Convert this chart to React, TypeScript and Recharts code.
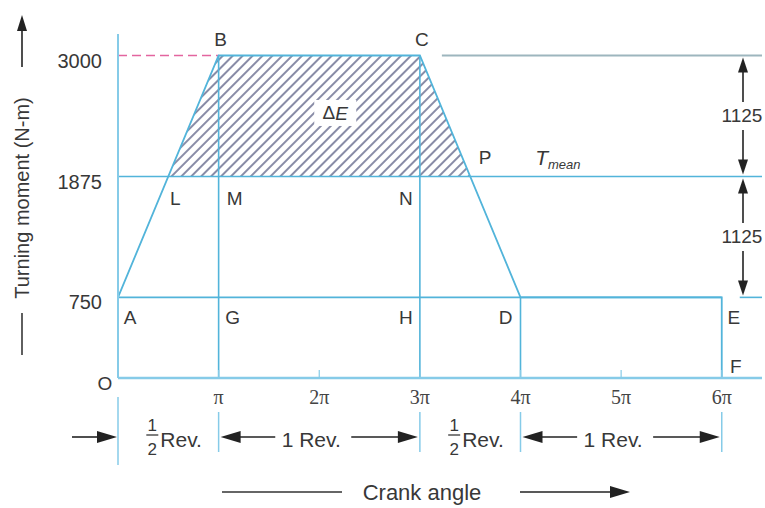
import React from 'react';
import {
  ComposedChart,
  Line,
  Area,
  XAxis,
  YAxis,
  ReferenceLine,
  ReferenceDot,
  ReferenceArea,
} from 'recharts';

// ---------------- data ----------------
// crank angle in multiples of π, turning moment in N-m
const crankAngle = [0, 1, 3, 4, 6, 6];
const turningMoment = [750, 3000, 3000, 750, 750, 0];
const excessAngle = [0.5, 1, 3, 3.5];
const excessMoment = [1875, 3000, 3000, 1875];
const meanMoment = 1875;
const maxMoment = 3000;
const minMoment = 750;
const xTickValues = [1, 2, 3, 4, 5, 6];
const xTickLabels = ['π', '2π', '3π', '4π', '5π', '6π'];
const yTickValues = [750, 1875, 3000];
const ordinateAngle = [1, 3, 4];
const ordinateTop = [3000, 3000, 750];
const pointNames = ['O', 'A', 'B', 'C', 'D', 'E', 'F', 'G', 'H', 'L', 'M', 'N', 'P'];
const pointAngle = [0, 0, 1, 3, 4, 6, 6, 1, 3, 0.5, 1, 3, 3.5];
const pointMoment = [0, 750, 3000, 3000, 750, 750, 0, 750, 750, 1875, 1875, 1875, 1875];
const revBoundaries = [0, 1, 3, 4, 6];
const revKinds = ['half', 'one', 'half', 'one'];

// ---------------- styles ----------------
const BLUE = '#52b4da';
const AXIS_BLUE = '#86cbe8';
const GREY_BLUE = '#9db6be';
const HATCH = '#62668a';
const PINK = '#e3659f';
const TEXT = '#383838';
const SANS = '"Liberation Sans", Arial, Helvetica, sans-serif';
const SERIF = '"Liberation Serif", "Times New Roman", serif';
const X_TICK_MARGIN = 10;

const labelOffsets: Record<string, [number, number]> = {
  O: [-13, 5],
  A: [12, 20],
  B: [2, -16],
  C: [2, -16],
  D: [-15, 20],
  E: [12, 20],
  F: [14, -12],
  G: [14, 20],
  H: [-14, 20],
  L: [7, 22],
  M: [16, 22],
  N: [-14, 22],
  P: [15, -19],
};

const curveData = crankAngle.map((x, i) => ({ x, m: turningMoment[i] }));
const excessData = excessAngle.map((x, i) => ({ x, m: excessMoment[i] }));

// ---------------- helpers ----------------
function Arrow({ x1, y1, x2, y2, head = 16, half = 5, color = '#222', sw = 1.6 }: any) {
  const dx = x2 - x1;
  const dy = y2 - y1;
  const len = Math.sqrt(dx * dx + dy * dy) || 1;
  const ux = dx / len;
  const uy = dy / len;
  const bx = x2 - ux * head;
  const by = y2 - uy * head;
  const px = -uy * half;
  const py = ux * half;
  return (
    <g>
      <line x1={x1} y1={y1} x2={bx + ux * 2} y2={by + uy * 2} stroke={color} strokeWidth={sw} />
      <polygon points={`${x2},${y2} ${bx + px},${by + py} ${bx - px},${by - py}`} fill={color} />
    </g>
  );
}

const XTick = (props: any) => {
  const { x, y, payload } = props;
  const idx = xTickValues.indexOf(payload.value);
  const axisY = y - X_TICK_MARGIN;
  return (
    <g>
      <line x1={x} x2={x} y1={axisY} y2={axisY - 8} stroke={AXIS_BLUE} strokeWidth={1.2} />
      <text x={x} y={axisY + 26} textAnchor="middle" fontFamily={SERIF} fontSize={20} fill="#444">
        {xTickLabels[idx]}
      </text>
    </g>
  );
};

const YTitle = (props: any) => {
  const vb = props.viewBox || { x: 58, y: 34 };
  const cx = vb.x - 36;
  const top = vb.y;
  return (
    <g>
      <Arrow x1={cx} y1={top + 33} x2={cx} y2={top - 19} head={16} half={5} />
      <text
        x={cx}
        y={top + 164}
        transform={`rotate(-90 ${cx} ${top + 164})`}
        textAnchor="middle"
        dominantBaseline="central"
        fontFamily={SANS}
        fontSize={20}
        fill={TEXT}
      >
        Turning moment (N-m)
      </text>
      <line x1={cx} x2={cx} y1={top + 279} y2={top + 321} stroke={TEXT} strokeWidth={1.6} />
    </g>
  );
};

const XTitle = (props: any) => {
  const vb = props.viewBox || { x: 118, y: 378, width: 644 };
  const c = vb.x + vb.width / 2;
  const yy = vb.y + 114;
  return (
    <g>
      <line x1={c - 218} x2={c - 98} y1={yy} y2={yy} stroke="#333" strokeWidth={1.6} />
      <text x={c - 18} y={yy} textAnchor="middle" dominantBaseline="central" fontFamily={SANS} fontSize={22} fill={TEXT}>
        Crank angle
      </text>
      <Arrow x1={c + 80} y1={yy} x2={c + 190} y2={yy} head={20} half={6} color="#222" />
    </g>
  );
};

const BoundaryTick = (props: any) => {
  const { x1, y1, y2 } = props;
  const bottom = Math.max(y1, y2);
  const isOrigin = props.origin;
  return (
    <line
      x1={x1}
      x2={x1}
      y1={bottom + (isOrigin ? 19 : 34)}
      y2={bottom + (isOrigin ? 87 : 74)}
      stroke={AXIS_BLUE}
      strokeWidth={1.5}
    />
  );
};

const RevSpan = (props: any) => {
  const { x, y, width, height, kind, first } = props;
  const yy = y + height + 61;
  const mid = x + width / 2;
  if (kind === 'half') {
    const left = mid + 14 - 36;
    return (
      <g fontFamily={SANS} fill={TEXT}>
        {first && <Arrow x1={x - 46} y1={yy - 2} x2={x - 1} y2={yy - 2} head={20} half={6} />}
        <text x={left + 6} y={yy - 14} textAnchor="middle" dominantBaseline="central" fontSize={17}>1</text>
        <line x1={left} x2={left + 12} y1={yy - 4} y2={yy - 4} stroke={TEXT} strokeWidth={1.3} />
        <text x={left + 6} y={yy + 10} textAnchor="middle" dominantBaseline="central" fontSize={17}>2</text>
        <text x={left + 14} y={yy} dominantBaseline="central" fontSize={21}>Rev.</text>
      </g>
    );
  }
  const tc = mid - 8;
  return (
    <g fontFamily={SANS} fill={TEXT}>
      <Arrow x1={tc - 36} y1={yy - 2} x2={x + 2} y2={yy - 2} head={20} half={6} />
      <text x={tc} y={yy} textAnchor="middle" dominantBaseline="central" fontSize={21}>1 Rev.</text>
      <Arrow x1={tc + 40} y1={yy - 2} x2={x + width - 2} y2={yy - 2} head={20} half={6} />
    </g>
  );
};

const Dimension = (props: any) => {
  const { x, y, width, height, value } = props;
  const cx = x + width - 19;
  const cy = y + height / 2;
  return (
    <g>
      <Arrow x1={cx} y1={cy - 14} x2={cx} y2={y + 2} head={15} half={5} />
      <Arrow x1={cx} y1={cy + 14} x2={cx} y2={y + height - 2} head={15} half={5} />
      <text x={cx - 1} y={cy} textAnchor="middle" dominantBaseline="central" fontFamily={SANS} fontSize={19} fill={TEXT}>
        {value}
      </text>
    </g>
  );
};

const ShiftedSegment = (props: any) => {
  const { x1, y1, x2, y2, shift, stroke, strokeWidth } = props;
  return <line x1={Math.min(x1, x2) + shift} x2={Math.max(x1, x2)} y1={y1} y2={y2} stroke={stroke} strokeWidth={strokeWidth} />;
};

const PointLabel = (props: any) => {
  const { cx, cy, name } = props;
  const [dx, dy] = labelOffsets[name] || [0, 0];
  return (
    <text x={cx + dx} y={cy + dy} textAnchor="middle" dominantBaseline="central" fontFamily={SANS} fontSize={19} fill={TEXT}>
      {name}
    </text>
  );
};

const DeltaE = (props: any) => {
  const { cx, cy } = props;
  const x = cx + 16;
  const y = cy - 3;
  return (
    <g>
      <rect x={x - 21} y={y - 13} width={42} height={26} fill="#fff" />
      <text x={x} y={y} textAnchor="middle" dominantBaseline="central" fontFamily={SANS} fontSize={19} fill={TEXT}>
        Δ<tspan fontStyle="italic">E</tspan>
      </text>
    </g>
  );
};

const TMean = (props: any) => {
  const { cx, cy } = props;
  const x = cx + 65;
  const y = cy - 19;
  return (
    <text x={x} y={y} dominantBaseline="central" fontFamily={SANS} fill={TEXT}>
      <tspan fontSize={21} fontStyle="italic">T</tspan>
      <tspan fontSize={13} fontStyle="italic" dy={7}>mean</tspan>
    </text>
  );
};

export default function App() {
  return (
    <div style={{ position: 'absolute', left: 0, top: 0, width: 765, height: 508, background: '#fff' }}>
      <ComposedChart width={765} height={508} margin={{ top: 34, right: 3, bottom: 100, left: 58 }}>
        <defs>
          <pattern id="hatch" patternUnits="userSpaceOnUse" width="7" height="7" patternTransform="rotate(45)">
            <rect width="7" height="7" fill="#fff" />
            <line x1="1" y1="0" x2="1" y2="7" stroke={HATCH} strokeWidth="1.5" />
          </pattern>
        </defs>
        <XAxis
          dataKey="x"
          type="number"
          domain={[0, 6.4]}
          ticks={xTickValues}
          interval={0}
          tickLine={false}
          tickSize={0}
          tickMargin={X_TICK_MARGIN}
          tick={<XTick />}
          axisLine={{ stroke: AXIS_BLUE, strokeWidth: 2.5 }}
          label={<XTitle />}
        />
        <YAxis
          type="number"
          domain={[0, 3200]}
          ticks={yTickValues}
          interval={0}
          width={60}
          tickLine={false}
          tickSize={0}
          tickMargin={16}
          tick={{ fill: TEXT, fontSize: 20, fontFamily: SANS, dy: 5 }}
          axisLine={{ stroke: AXIS_BLUE, strokeWidth: 2 }}
          label={<YTitle />}
        />

        <Area
          data={excessData}
          dataKey="m"
          type="linear"
          baseValue={meanMoment}
          fill="url(#hatch)"
          fillOpacity={1}
          stroke="none"
          isAnimationActive={false}
        />

        {/* mean torque line */}
        <ReferenceLine y={meanMoment} stroke={BLUE} strokeWidth={1.6} />
        {/* minimum torque line A-E */}
        <ReferenceLine segment={[{ x: 0, y: minMoment }, { x: 6, y: minMoment }]} stroke={BLUE} strokeWidth={1.6} />
        <ReferenceLine
          segment={[{ x: 6, y: minMoment }, { x: 6.4, y: minMoment }]}
          shape={(p: any) => <ShiftedSegment {...p} shift={18} stroke={BLUE} strokeWidth={1.6} />}
        />
        {/* maximum torque reference line */}
        <ReferenceLine
          segment={[{ x: 3, y: maxMoment }, { x: 6.4, y: maxMoment }]}
          shape={(p: any) => <ShiftedSegment {...p} shift={22} stroke={GREY_BLUE} strokeWidth={2} />}
        />
        <ReferenceLine
          segment={[{ x: 0, y: maxMoment }, { x: 1, y: maxMoment }]}
          stroke={PINK}
          strokeWidth={1.6}
          strokeDasharray="9 5"
        />
        {ordinateAngle.map((a, i) => (
          <ReferenceLine
            key={`ord-${i}`}
            segment={[{ x: a, y: 0 }, { x: a, y: ordinateTop[i] }]}
            stroke={BLUE}
            strokeWidth={1.6}
          />
        ))}

        <Line
          data={curveData}
          dataKey="m"
          type="linear"
          stroke={BLUE}
          strokeWidth={1.8}
          dot={false}
          isAnimationActive={false}
        />

        {/* boundary ticks below the axis */}
        {revBoundaries.map((b, i) => (
          <ReferenceLine
            key={`bt-${i}`}
            x={b}
            shape={(p: any) => <BoundaryTick {...p} origin={i === 0} />}
          />
        ))}
        {revKinds.map((k, i) => (
          <ReferenceArea
            key={`rev-${i}`}
            x1={revBoundaries[i]}
            x2={revBoundaries[i + 1]}
            shape={(p: any) => <RevSpan {...p} kind={k} first={i === 0} />}
          />
        ))}

        {/* dimension arrows on the right */}
        <ReferenceArea
          y1={meanMoment}
          y2={maxMoment}
          shape={(p: any) => <Dimension {...p} value={String(maxMoment - meanMoment)} />}
        />
        <ReferenceArea
          y1={minMoment}
          y2={meanMoment}
          shape={(p: any) => <Dimension {...p} value={String(meanMoment - minMoment)} />}
        />

        {pointNames.map((n, i) => (
          <ReferenceDot
            key={`pt-${n}`}
            x={pointAngle[i]}
            y={pointMoment[i]}
            r={1}
            shape={(p: any) => <PointLabel {...p} name={n} />}
          />
        ))}
        <ReferenceDot
          x={(excessAngle[1] + excessAngle[2]) / 2}
          y={(maxMoment + meanMoment) / 2}
          r={1}
          shape={(p: any) => <DeltaE {...p} />}
        />
        <ReferenceDot
          x={excessAngle[3]}
          y={meanMoment}
          r={1}
          shape={(p: any) => <TMean {...p} />}
        />
      </ComposedChart>
    </div>
  );
}
